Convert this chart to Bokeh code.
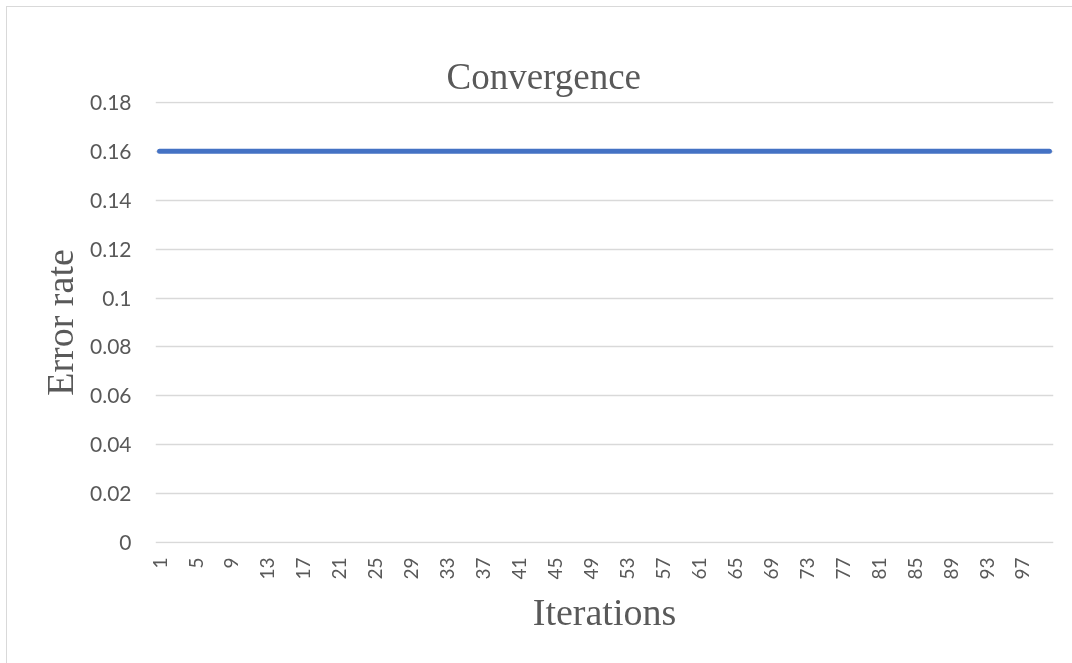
from bokeh.plotting import figure
from bokeh.models import FixedTicker, Range1d, ColumnDataSource, LinearAxis
from bokeh.embed import file_html
from bokeh.resources import INLINE

# Iteration numbers and the error rate recorded at each one
iterations = list(range(1, 101))
error_rate = [
    0.16, 0.16, 0.16, 0.16, 0.16, 0.16, 0.16, 0.16, 0.16, 0.16,
    0.16, 0.16, 0.16, 0.16, 0.16, 0.16, 0.16, 0.16, 0.16, 0.16,
    0.16, 0.16, 0.16, 0.16, 0.16, 0.16, 0.16, 0.16, 0.16, 0.16,
    0.16, 0.16, 0.16, 0.16, 0.16, 0.16, 0.16, 0.16, 0.16, 0.16,
    0.16, 0.16, 0.16, 0.16, 0.16, 0.16, 0.16, 0.16, 0.16, 0.16,
    0.16, 0.16, 0.16, 0.16, 0.16, 0.16, 0.16, 0.16, 0.16, 0.16,
    0.16, 0.16, 0.16, 0.16, 0.16, 0.16, 0.16, 0.16, 0.16, 0.16,
    0.16, 0.16, 0.16, 0.16, 0.16, 0.16, 0.16, 0.16, 0.16, 0.16,
    0.16, 0.16, 0.16, 0.16, 0.16, 0.16, 0.16, 0.16, 0.16, 0.16,
    0.16, 0.16, 0.16, 0.16, 0.16, 0.16, 0.16, 0.16, 0.16, 0.16,
]

# Axis ticks
x_ticks = [1, 5, 9, 13, 17, 21, 25, 29, 33, 37, 41, 45, 49,
           53, 57, 61, 65, 69, 73, 77, 81, 85, 89, 93, 97]
y_ticks = [0, 0.02, 0.04, 0.06, 0.08, 0.1, 0.12, 0.14, 0.16, 0.18]
y_tick_labels = ["0", "0.02", "0.04", "0.06", "0.08", "0.1",
                 "0.12", "0.14", "0.16", "0.18"]

TEXT = "#595959"
GRID = "#d9d9d9"
SERIF = "Liberation Serif"
SANS = "Lato"

W, H = 1075, 665

source = ColumnDataSource(data=dict(x=iterations, y=error_rate))

p = figure(
    width=W, height=H,
    output_backend="svg", toolbar_location=None,
    x_range=Range1d(0.55, 100.45), y_range=Range1d(-0.0004, 0.1804),
    min_border_left=148, min_border_right=29,
    min_border_top=94, min_border_bottom=129,
    background_fill_color="white", border_fill_color="white",
)
# Chart area pinned to the page; its top and left edges carry a thin frame,
# the rest runs past the page edges
p.styles = {
    "position": "fixed", "left": "7px", "top": "7px",
    "box-shadow": f"-1px -1px 0px 0px {GRID}",
}
p.outline_line_color = None

# The figure's own axes, taken before any extra axis is added
xa = p.below[0]
ya = p.left[0]

p.line("x", "y", source=source, line_color="#4472C4", line_width=5,
       line_cap="round")

# Blank spacer axis above the frame: lifts the title clear of the plot
# (tick style kept "visible" so the tick length counts, but no ticks exist)
spacer = LinearAxis(
    ticker=FixedTicker(ticks=[]),
    axis_line_color=None, major_tick_line_color="white",
    minor_tick_line_color=None,
    major_tick_in=0, major_tick_out=29, major_label_standoff=0,
    major_label_text_font_size="0px",
)
p.add_layout(spacer, "above")

# Title
p.title.text = "Convergence"
p.title.text_font = SERIF
p.title.text_font_size = "37px"
p.title.text_font_style = "normal"
p.title.text_color = TEXT
p.title.align = "left"
p.title.offset = 291
p.title.standoff = 10

# X axis
xa.ticker = FixedTicker(ticks=x_ticks)
xa.major_label_orientation = 1.5707963
xa.major_label_text_font = SANS
xa.major_label_text_font_size = "19px"
xa.major_label_text_color = TEXT
xa.major_label_standoff = 8
xa.major_tick_line_color = None
xa.minor_tick_line_color = None
xa.axis_line_color = None
xa.axis_label = "Iterations"
xa.axis_label_text_font = SERIF
xa.axis_label_text_font_size = "38px"
xa.axis_label_text_font_style = "normal"
xa.axis_label_text_color = TEXT
xa.axis_label_standoff = 8

# Y axis
ya.ticker = FixedTicker(ticks=y_ticks)
ya.major_label_overrides = {t: lab for t, lab in zip(y_ticks, y_tick_labels)}
ya.major_label_text_font = SANS
ya.major_label_text_font_size = "21px"
ya.major_label_text_color = TEXT
ya.major_label_standoff = 18
ya.major_tick_line_color = None
ya.minor_tick_line_color = None
ya.axis_line_color = None
ya.axis_label = "Error rate"
ya.axis_label_text_font = SERIF
ya.axis_label_text_font_size = "38px"
ya.axis_label_text_font_style = "normal"
ya.axis_label_text_color = TEXT
ya.axis_label_standoff = 6

p.xgrid.grid_line_color = None
p.ygrid.grid_line_color = GRID
p.ygrid.grid_line_width = 1.5

open("out.html", "w").write(file_html(p, INLINE))
